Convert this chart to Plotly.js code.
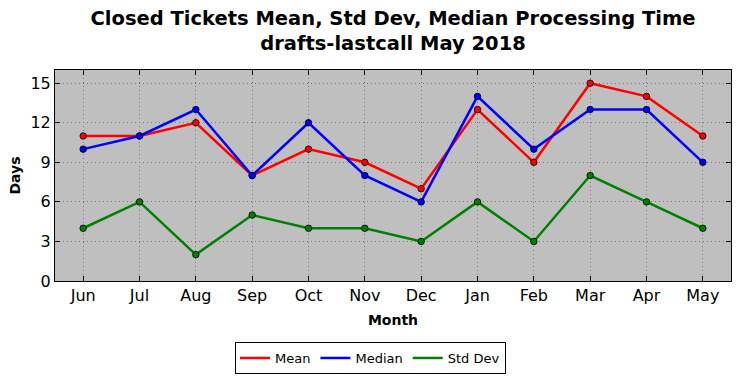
<!DOCTYPE html>
<html>
<head>
<meta charset="utf-8">
<script src="https://cdn.plot.ly/plotly-3.0.1.min.js"></script>
<style>html,body{margin:0;padding:0;background:#fff;}#chart{width:741px;height:378px;}</style>
</head>
<body>
<div id="chart"></div>
<script>
const months = ["Jun","Jul","Aug","Sep","Oct","Nov","Dec","Jan","Feb","Mar","Apr","May"];
const meanVals = [11, 11, 12, 8, 10, 9, 7, 13, 9, 15, 14, 11];
const medianVals = [10, 11, 13, 8, 12, 8, 6, 14, 10, 13, 13, 9];
const stdVals = [4, 6, 2, 5, 4, 4, 3, 6, 3, 8, 6, 4];
const yTicks = [0, 3, 6, 9, 12, 15];

function traces(name, y, color) {
  return [{
    x: months, y: y, name: name, type: 'scatter', mode: 'lines',
    line: {color: color, width: 2.5}, legendgroup: name
  }, {
    x: months, y: y, name: name, type: 'scatter', mode: 'markers', showlegend: false,
    legendgroup: name,
    marker: {color: color, size: 6.5, line: {color: '#000', width: 0.8}}
  }];
}
const data = [].concat(
  traces('Mean', meanVals, '#ff0000'),
  traces('Median', medianVals, '#0000ff'),
  traces('Std Dev', stdVals, '#008000')
);
const fontFam = 'DejaVu Sans, sans-serif';
const layout = {
  width: 741, height: 378,
  margin: {l: 55, r: 10, t: 70, b: 97},
  paper_bgcolor: '#ffffff',
  plot_bgcolor: '#bfbfbf',
  font: {family: fontFam, color: '#000'},
  title: {
    text: '<b>Closed Tickets Mean, Std Dev, Median Processing Time<br>drafts-lastcall May 2018</b>',
    font: {family: fontFam, size: 19.5, color: '#000'},
    x: 0.5, xref: 'paper', y: 0.934, yref: 'container', yanchor: 'top'
  },
  xaxis: {
    type: 'category', categoryarray: months, range: [-0.5, 11.5],
    showline: true, linecolor: '#000', linewidth: 1, mirror: 'ticks',
    ticks: 'inside', ticklen: 5, tickcolor: '#000',
    showgrid: true, gridcolor: '#7a7a7a', griddash: '1px,3px', gridwidth: 1,
    tickfont: {size: 16, family: fontFam}, automargin: false,
    title: {text: '<b>Month</b>', font: {size: 14, family: fontFam}, standoff: 10},
    zeroline: false
  },
  yaxis: {
    range: [0, 16], tickvals: yTicks, ticktext: yTicks.map(String),
    showline: true, linecolor: '#000', linewidth: 1, mirror: 'ticks',
    ticks: 'inside', ticklen: 5, tickcolor: '#000',
    showgrid: true, gridcolor: '#7a7a7a', griddash: '1px,3px', gridwidth: 1,
    tickfont: {size: 16, family: fontFam}, automargin: false,
    title: {text: '<b>Days</b>', font: {size: 14, family: fontFam}, standoff: 6},
    zeroline: false
  },
  showlegend: true,
  legend: {
    orientation: 'h', x: 0.5, xref: 'container', xanchor: 'center',
    y: 0.0952, yref: 'container', yanchor: 'top',
    bordercolor: '#000', borderwidth: 1, bgcolor: '#fff',
    font: {size: 13, family: fontFam}, tracegroupgap: 0
  }
};
Plotly.newPlot('chart', data, layout, {displayModeBar: false, staticPlot: true});
</script>
</body>
</html>
